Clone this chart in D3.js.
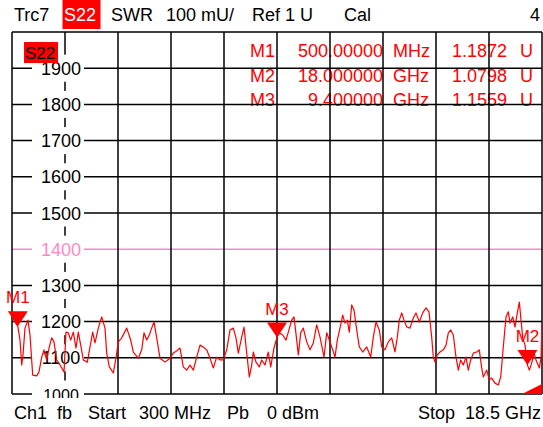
<!DOCTYPE html>
<html>
<head>
<meta charset="utf-8">
<script src="https://cdn.jsdelivr.net/npm/d3@7"></script>
<style>
  body { margin: 0; background: #fff; }
  svg { display: block; font-family: "Liberation Sans", Arial, sans-serif; }
</style>
</head>
<body>
<svg id="chart" width="543" height="427"></svg>
<script>
// Sweep: frequency in GHz, SWR in mU
const freqGHz = [
  0.30, 0.40, 0.50, 0.575, 0.633, 0.678, 0.746, 0.849, 0.918, 1.011, 1.148, 1.227, 1.320, 1.399, 1.492, 1.581,
  1.663, 1.742, 1.835, 1.948, 2.086, 2.154, 2.233, 2.316, 2.405, 2.498, 2.577, 2.659, 2.748, 2.886, 2.979, 3.071,
  3.150, 3.264, 3.380, 3.494, 3.552, 3.641, 3.779, 3.871, 3.950, 4.067, 4.239, 4.376, 4.465, 4.637, 4.754, 4.833,
  4.926, 5.015, 5.097, 5.176, 5.269, 5.382, 5.554, 5.726, 5.839, 5.956, 6.069, 6.182, 6.299, 6.413, 6.526, 6.643,
  6.756, 6.869, 6.986, 7.099, 7.213, 7.329, 7.443, 7.556, 7.673, 7.786, 7.899, 7.992, 8.071, 8.188, 8.267, 8.360,
  8.449, 8.531, 8.586, 8.679, 8.792, 8.875, 8.988, 9.101, 9.184, 9.297, 9.400, 9.479, 9.596, 9.709, 9.788, 9.905,
  9.984, 10.077, 10.132, 10.214, 10.303, 10.420, 10.533, 10.647, 10.763, 10.877, 11.014, 11.107, 11.196, 11.313, 11.392, 11.471,
  11.563, 11.656, 11.735, 11.814, 11.883, 11.965, 12.044, 12.137, 12.226, 12.343, 12.480, 12.618, 12.707, 12.800, 12.913, 12.996,
  13.109, 13.222, 13.339, 13.452, 13.531, 13.600, 13.682, 13.761, 13.854, 13.967, 14.080, 14.173, 14.287, 14.403, 14.517, 14.620,
  14.712, 14.767, 14.826, 14.905, 14.997, 15.111, 15.204, 15.283, 15.365, 15.454, 15.547, 15.626, 15.708, 15.797, 15.890, 15.969,
  16.052, 16.141, 16.258, 16.347, 16.429, 16.484, 16.601, 16.690, 16.773, 16.886, 16.999, 17.082, 17.171, 17.264, 17.343, 17.401,
  17.494, 17.573, 17.652, 17.721, 17.779, 17.838, 17.917, 18.000, 18.065, 18.148, 18.226, 18.295, 18.409, 18.467, 18.50
];
const swrMU = [
  1221, 1199, 1187, 1149, 1080, 1108, 1182, 1204, 1163, 1052, 1050, 1061, 1102, 1122, 1094, 1130,
  1155, 1144, 1094, 1080, 1061, 1171, 1169, 1149, 1171, 1127, 1171, 1135, 1094, 1088, 1130, 1171,
  1141, 1182, 1213, 1182, 1113, 1075, 1058, 1099, 1144, 1155, 1182, 1149, 1116, 1099, 1122, 1169,
  1149, 1163, 1182, 1199, 1155, 1099, 1088, 1099, 1113, 1119, 1127, 1075, 1066, 1080, 1066, 1102,
  1135, 1130, 1122, 1099, 1072, 1102, 1094, 1094, 1122, 1177, 1182, 1155, 1113, 1157, 1185, 1113,
  1047, 1080, 1116, 1088, 1075, 1094, 1080, 1116, 1075, 1127, 1156, 1169, 1163, 1149, 1171, 1204,
  1213, 1149, 1108, 1169, 1182, 1144, 1122, 1141, 1191, 1157, 1102, 1169, 1149, 1122, 1102, 1149,
  1182, 1218, 1196, 1204, 1171, 1246, 1232, 1177, 1130, 1116, 1130, 1102, 1157, 1199, 1177, 1130,
  1122, 1144, 1155, 1116, 1157, 1204, 1224, 1204, 1185, 1182, 1210, 1224, 1199, 1224, 1238, 1227,
  1157, 1102, 1088, 1108, 1116, 1122, 1135, 1169, 1177, 1163, 1102, 1066, 1094, 1080, 1102, 1066,
  1094, 1113, 1116, 1122, 1072, 1047, 1066, 1039, 1044, 1030, 1025, 1047, 1130, 1213, 1227, 1196,
  1213, 1185, 1224, 1254, 1204, 1155, 1135, 1080, 1066, 1086, 1113, 1094, 1072, 1102, 1196
];

const yTicks = [1000, 1100, 1200, 1300, 1400, 1500, 1600, 1700, 1800, 1900];
const refLevel = 1400;

const markerNames = ["M1", "M2", "M3"];
const markerFreq = [0.5, 18.0, 9.4];
const markerValue = [1187.2, 1079.8, 1155.9];
const markerFreqText = ["500.00000", "18.000000", "9.400000"];
const markerUnit = ["MHz", "GHz", "GHz"];
const markerReadout = ["1.1872", "1.0798", "1.1559"];

const headerLeft = ["Trc7", "S22", "SWR", "100 mU/", "Ref 1 U", "Cal"];
const footerLeft = ["Ch1", "fb", "Start", "300 MHz", "Pb", "0 dBm"];
const footerRight = "Stop  18.5 GHz";

const RED = "#ff0000", PINK = "#ff88c8";
const L = 12, R = 542, T = 32, B = 394;

const svg = d3.select("#chart");
const x = d3.scaleLinear().domain([0.3, 18.5]).range([L, R]);
const y = d3.scaleLinear().domain([1000, 2000]).range([B, T]);

// Header
const headX = [14, 64, 111, 166, 252, 344];
svg.append("rect").attr("x", 62.5).attr("y", 0).attr("width", 38).attr("height", 29).attr("fill", RED);
svg.selectAll("text.head").data(headerLeft).join("text")
  .attr("class", "head")
  .attr("x", (d, i) => headX[i]).attr("y", 21)
  .attr("font-size", 18)
  .attr("fill", (d, i) => i === 1 ? "#fff" : "#000")
  .text(d => d);
svg.append("text").attr("x", 540).attr("y", 21).attr("text-anchor", "end")
  .attr("font-size", 18).text("4");

// Marker readouts (under the grid)
const ro = svg.append("g").attr("fill", RED).attr("font-size", 18);
markerNames.forEach((m, i) => {
  const by = 57 + i * 24.5;
  ro.append("text").attr("x", 275).attr("y", by).attr("text-anchor", "end").text(m);
  ro.append("text").attr("x", 383).attr("y", by).attr("text-anchor", "end").text(markerFreqText[i]);
  ro.append("text").attr("x", 393).attr("y", by).text(markerUnit[i]);
  ro.append("text").attr("x", 507).attr("y", by).attr("text-anchor", "end").text(markerReadout[i]);
  ro.append("text").attr("x", 520).attr("y", by).text("U");
});

// Grid
const grid = svg.append("g").attr("stroke-width", 1.5);
const hLines = d3.range(1000, 2001, 100);
grid.selectAll("line.h").data(hLines).join("line")
  .attr("x1", L).attr("x2", R)
  .attr("y1", d => y(d)).attr("y2", d => y(d))
  .attr("stroke", d => d === refLevel ? PINK : "#000");
const vLines = d3.range(11).map(k => 0.3 + k * 1.82);
grid.selectAll("line.v").data(vLines).join("line")
  .attr("y1", T).attr("y2", B)
  .attr("x1", d => x(d)).attr("x2", d => x(d))
  .attr("stroke", "#000");

// Y labels with white boxes; the bottom one is cut by the footer
svg.append("clipPath").attr("id", "lblclip").append("rect")
  .attr("x", 0).attr("y", 0).attr("width", 543).attr("height", 398);
const lbl = svg.append("g").attr("clip-path", "url(#lblclip)");
lbl.selectAll("rect").data(yTicks).join("rect")
  .attr("x", 32).attr("width", 52)
  .attr("y", d => y(d) - 13.5).attr("height", 27)
  .attr("fill", "#fff");
lbl.selectAll("text").data(yTicks).join("text")
  .attr("x", 61).attr("y", d => y(d) + 6.5)
  .attr("text-anchor", "middle").attr("font-size", d => d === 1000 ? 16 : 18)
  .attr("fill", d => d === refLevel ? PINK : "#000")
  .text(d => d);

// Trace
svg.append("clipPath").attr("id", "plotclip").append("rect")
  .attr("x", L).attr("y", T).attr("width", R - L).attr("height", B - T);
const line = d3.line().x(d => x(d[0])).y(d => y(d[1]));
svg.append("path")
  .datum(freqGHz.map((f, i) => [f, swrMU[i]]))
  .attr("clip-path", "url(#plotclip)")
  .attr("fill", "none").attr("stroke", RED).attr("stroke-width", 1.2)
  .attr("stroke-linejoin", "round")
  .attr("d", line);

// Markers
const mk = svg.append("g").attr("fill", RED);
markerNames.forEach((m, i) => {
  const px = x(markerFreq[i]), py = y(markerValue[i]);
  mk.append("path").attr("d", `M${px - 10},${py - 15}L${px + 10},${py - 15}L${px},${py}Z`);
  mk.append("text").attr("x", Math.max(px, 17)).attr("y", py - 23)
    .attr("text-anchor", "middle").attr("font-size", 17).text(m);
});

// Trace label in plot
svg.append("rect").attr("x", 24).attr("y", 42).attr("width", 34).attr("height", 21).attr("fill", RED);
svg.append("text").attr("x", 25).attr("y", 59).attr("font-size", 17).attr("fill", "#000").text("S22");

// Out-of-range wedge bottom right
svg.append("path").attr("d", `M${R - 20},${B}L${R},${B}L${R},${B - 10}Z`).attr("fill", RED);

// Footer
const footX = [14, 57, 88, 139, 227, 267];
svg.selectAll("text.foot").data(footerLeft).join("text")
  .attr("class", "foot")
  .attr("x", (d, i) => footX[i]).attr("y", 419)
  .attr("font-size", 18).text(d => d);
svg.append("text").attr("x", 541).attr("y", 419).attr("text-anchor", "end")
  .attr("font-size", 18).style("white-space", "pre").text(footerRight);
</script>
</body>
</html>
